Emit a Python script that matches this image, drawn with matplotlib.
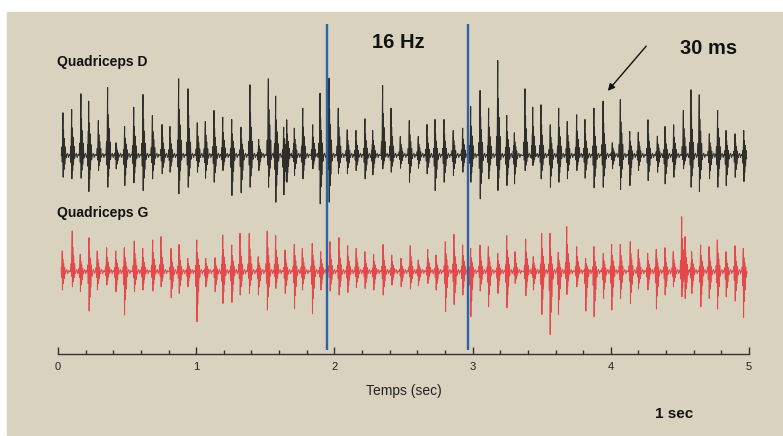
import numpy as np
import matplotlib
matplotlib.use("Agg")
import matplotlib.pyplot as plt
from matplotlib.patches import Rectangle

plt.rcParams['font.family'] = ['Liberation Sans', 'DejaVu Sans']

# ---------------- data ----------------
# Quadriceps D : spike times (s), positive peak, negative peak (arbitrary units)
d_times = [0.036, 0.099, 0.166, 0.222, 0.292, 0.359, 0.420, 0.482, 0.548, 0.615,
           0.683, 0.753, 0.810, 0.873, 0.941, 1.008, 1.066, 1.129, 1.192, 1.257,
           1.324, 1.389, 1.452, 1.522, 1.575, 1.633, 1.655,
           1.710, 1.771, 1.843, 1.896, 1.961, 2.028, 2.093, 2.156, 2.221, 2.277,
           2.349, 2.410, 2.477, 2.542, 2.607, 2.670, 2.728, 2.793, 2.860, 2.928,
           2.986, 3.054, 3.116, 3.182, 3.247, 3.302,
           3.379, 3.435, 3.495, 3.562, 3.623, 3.685, 3.753, 3.813, 3.878, 3.944,
           4.011, 4.069, 4.137, 4.199, 4.269, 4.337, 4.392, 4.455, 4.525, 4.580,
           4.640, 4.713, 4.773, 4.834, 4.899, 4.962]
d_up = [42.7, 46, 61.7, 54.3, 35, 68, 12.7, 29, 48.3, 61,
        40, 31, 29, 76.7, 66.7, 32.7, 34, 45, 38.3, 36,
        28.3, 70.7, 16, 76.7, 59.3, 28.3, 35.7,
        27.3, 47.3, 30.7, 62.3, 77.3, 47.3, 25.7, 25, 36.7, 25,
        70, 47.3, 19, 35, 19, 31, 36, 36, 25, 27.3,
        49, 65, 47.3, 95, 40, 22.7,
        66.7, 48.3, 50.7, 30.7, 47.3, 34, 40.7, 36, 47.3, 54.3,
        12.7, 56, 24, 23.3, 35.7, 19.3, 29, 30.7, 45, 65.7,
        60.7, 21.7, 45, 25, 21.7, 25]
d_down = [21.7, 23.3, 22.7, 36, 15, 31.7, 13.3, 30, 27.3, 35,
          23.3, 18.3, 16.7, 38.3, 31.7, 16.7, 22.7, 26.7, 15, 40,
          37.3, 31.7, 15, 31.7, 46.7, 39.3, 26.7,
          20, 23.3, 13.3, 48.3, 46.7, 18.3, 18.3, 15, 23.3, 19.3,
          13.3, 16.7, 12.7, 26.7, 12.7, 18.3, 35, 26.7, 20, 16.7,
          26.7, 43.3, 23.3, 35, 30, 28.3,
          15, 10, 23.3, 31.7, 26.7, 23.3, 15, 22.7, 32.3, 31.7,
          13.3, 34, 30, 15, 25, 16.7, 28.3, 21.7, 13.3, 31.7,
          36, 23.3, 31.7, 30, 21.7, 26]

# Quadriceps G
g_times = [0.031, 0.103, 0.161, 0.224, 0.284, 0.352, 0.418, 0.480, 0.552, 0.613,
           0.685, 0.745, 0.818, 0.876, 0.939, 1.004, 1.069, 1.136, 1.192, 1.257,
           1.317, 1.384, 1.449, 1.514, 1.575, 1.643,
           1.710, 1.768, 1.840, 1.901, 1.968, 2.033, 2.096, 2.158, 2.221, 2.284,
           2.352, 2.415, 2.482, 2.549, 2.607, 2.675, 2.735, 2.803, 2.865, 2.928,
           2.986, 3.054, 3.114, 3.182, 3.247, 3.307,
           3.384, 3.439, 3.500, 3.560, 3.620, 3.681, 3.753, 3.818, 3.878, 3.946,
           4.006, 4.069, 4.141, 4.199, 4.267, 4.329, 4.392, 4.452, 4.513, 4.537,
           4.585, 4.650, 4.711, 4.771, 4.834, 4.899, 4.959]
g_up = [20.7, 40.7, 17.3, 34, 20.7, 24, 20.7, 24, 30.7, 23.3,
        31.7, 35, 23.3, 27.3, 13.3, 31.7, 13.3, 14, 36.7, 26.7,
        38.3, 38.3, 15, 40.7, 36, 21.7,
        27.3, 23.3, 28.3, 20, 30, 34, 26, 23.3, 20, 17.3,
        27.3, 16.7, 13.3, 26, 11.7, 22.3, 16.7, 30, 37.3, 26.7,
        23.3, 26.7, 25, 18.3, 36, 20,
        32.7, 15, 38.3, 38.3, 19.3, 45, 25, 13.3, 25, 18.3,
        27.3, 27.3, 30, 22.3, 18.3, 22.3, 24, 20, 55, 35,
        20, 26.7, 25, 31.7, 20, 26, 23.3]
g_down = [18.3, 15, 20, 39.3, 18.3, 13.3, 20, 43.3, 20, 18.3,
          19.3, 15, 26, 21.7, 15, 50, 15, 20, 31.7, 30.7,
          23.3, 21.7, 23.3, 38.3, 16.7, 21.7,
          36.7, 18.3, 41.7, 18.3, 19.3, 23.3, 20.7, 16, 16.7, 18.3,
          23.3, 13.3, 15, 17.3, 14, 11.7, 18.3, 40, 32.7, 23.3,
          45, 19.3, 35, 21.7, 36, 11.7,
          24, 18.3, 42.7, 62.7, 42.7, 22.7, 15, 39.3, 45, 26.7,
          38.3, 26.7, 31.7, 17.3, 18.3, 37.3, 23.3, 15, 25, 26.7,
          21.7, 35, 26.7, 37.3, 25, 29.3, 46]

marker_times = [1.946, 2.966]          # blue vertical cursors
x_ticks = [0, 1, 2, 3, 4, 5]
x_tick_labels = ['0', '1', '2', '3', '4', '5']

# ---------------- layout helpers ----------------
W, H = 783, 436
def fx(x):
    return x / W
def fy(y):
    return 1 - y / H

fig = plt.figure(figsize=(W / 100, H / 100), dpi=100)
fig.patch.set_facecolor('white')
fig.add_artist(Rectangle((fx(7), fy(435)), (W - 7) / W, (435 - 12) / H,
                         transform=fig.transFigure, color='#d8d2bf', zorder=-10))

ax_top_px, ax_bot_px = 24, 354
ax = fig.add_axes([fx(58), fy(ax_bot_px), (749 - 58) / W, (ax_bot_px - ax_top_px) / H])
ax.set_facecolor('none')
ax.set_xlim(0, 5)
ax.set_ylim(0, ax_bot_px - ax_top_px)

# burst shape (style): offsets in ms, factor applied to positive/negative peaks
shape = [(-12, 0, 0), (-8, 0.2, 0), (-5, 0, -0.3), (-2.5, 0.45, 0), (0, 1.0, 0),
         (1.5, 0, -1.0), (4, 0.6, 0), (7, 0, -0.65), (10, 0.4, 0), (13, 0, -0.4),
         (17, 0.2, 0), (21, 0, -0.12), (26, 0, 0)]
wiggle = [(33, 2.2), (40, -2.0), (47, 1.2), (54, 0.0)]

def build_trace(times, ups, downs, base):
    pts = []
    for t, u, d in zip(times, ups, downs):
        for ms, fu, fd in shape:
            pts.append((t + ms / 1000.0, base + fu * u + fd * d))
        for ms, v in wiggle:
            pts.append((t + ms / 1000.0, base + v))
    pts.sort(key=lambda p: p[0])
    xs = np.array([p[0] for p in pts])
    ys = np.array([p[1] for p in pts])
    m = (xs >= 0.02) & (xs <= 4.985)
    return xs[m], ys[m]

base_d = ax_bot_px - 155.5
base_g = ax_bot_px - 271.7

xd, yd = build_trace(d_times, d_up, d_down, base_d)
ax.plot(xd, yd, color='#111111', lw=0.75, alpha=0.85, zorder=3)
xg, yg = build_trace(g_times, g_up, g_down, base_g)
ax.plot(xg, yg, color='#e8262e', lw=0.75, alpha=0.8, zorder=3)

ax.vlines(marker_times, 4, ax_bot_px - ax_top_px, color='#2c63a6', lw=1.7, zorder=4)

for s in ['top', 'right', 'left']:
    ax.spines[s].set_visible(False)
ax.spines['bottom'].set_color('#333333')
ax.spines['bottom'].set_linewidth(1.0)
ax.set_yticks([])
ax.set_xticks(x_ticks)
ax.set_xticklabels(x_tick_labels)
ax.set_xticks(np.arange(0, 5.001, 0.2), minor=True)
ax.tick_params(axis='x', which='major', direction='in', length=5, width=1,
               color='#333333', labelsize=8, labelcolor='#222222', pad=6)
ax.tick_params(axis='x', which='minor', direction='in', length=3, width=1,
               color='#333333')

# ---------------- texts ----------------
fig.text(fx(57), fy(62), 'Quadriceps D', fontsize=10, fontweight='bold',
         ha='left', va='center', color='#111111')
fig.text(fx(57), fy(213), 'Quadriceps G', fontsize=10, fontweight='bold',
         ha='left', va='center', color='#111111')
fig.text(fx(398.5), fy(42), '16 Hz', fontsize=14.5, fontweight='bold',
         ha='center', va='center', color='#111111')
fig.text(fx(709), fy(48), '30 ms', fontsize=14.5, fontweight='bold',
         ha='center', va='center', color='#111111')
fig.text(fx(404), fy(391), 'Temps (sec)', fontsize=10, ha='center', va='center',
         color='#222222')
fig.text(fx(674), fy(414), '1 sec', fontsize=11, fontweight='bold',
         ha='center', va='center', color='#111111')

fig.add_artist(matplotlib.patches.FancyArrowPatch(
    (fx(648), fy(44)), (fx(606), fy(93)), transform=fig.transFigure,
    arrowstyle='-|>', mutation_scale=10, color='#111111', lw=1.0))

fig.savefig('out.png', dpi=100, facecolor=fig.get_facecolor())
